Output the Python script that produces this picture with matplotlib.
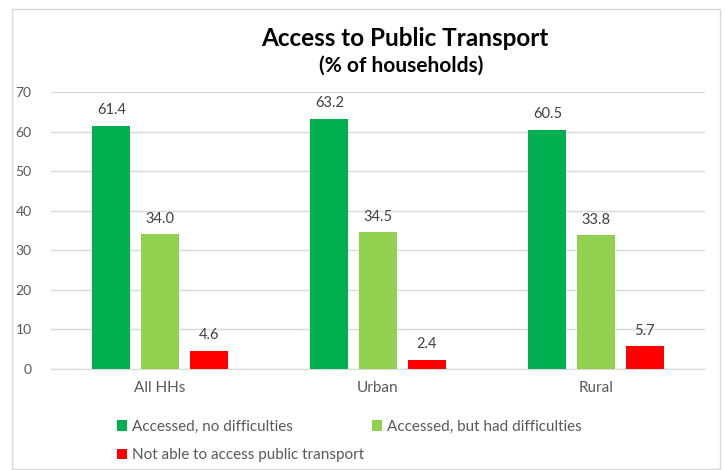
import matplotlib.pyplot as plt
import numpy as np
from matplotlib.patches import Rectangle

categories = ['All HHs', 'Urban', 'Rural']
series_names = ['Accessed, no difficulties', 'Accessed, but had difficulties',
                'Not able to access public transport']
no_difficulties = [61.4, 63.2, 60.5]
had_difficulties = [34.0, 34.5, 33.8]
no_access = [4.6, 2.4, 5.7]
colors = ['#00B050', '#92D050', '#FF0000']

plt.rcParams['font.family'] = ['Lato', 'DejaVu Sans']
text_grey = '#595959'

fig = plt.figure(figsize=(7.25, 4.7), dpi=100)
ax = fig.add_axes([51 / 725, 1 - 369 / 470, 654 / 725, 277 / 470])

x = np.arange(len(categories))
width = 0.175
step = 0.223
handles = []
for i, (vals, col) in enumerate(zip([no_difficulties, had_difficulties, no_access], colors)):
    bars = ax.bar(x + (i - 1) * step, vals, width, color=col, label=series_names[i], zorder=3)
    handles.append(bars)
    for b, v in zip(bars, vals):
        ax.text(b.get_x() + b.get_width() / 2, v + 2.2, f'{v:.1f}', ha='center', va='bottom',
                fontsize=10.5, color='#404040')

ax.set_xlim(-0.5, 2.5)
ax.set_ylim(0, 70)
ax.set_yticks(range(0, 71, 10))
ax.yaxis.grid(True, color='#d9d9d9', linewidth=1, zorder=0)
ax.set_xticks(x)
ax.set_xticklabels(categories)
ax.tick_params(axis='both', length=0, colors=text_grey, labelsize=10)
ax.tick_params(axis='x', pad=9, labelsize=11)
ax.tick_params(axis='y', pad=14)
for s in ['top', 'right', 'left']:
    ax.spines[s].set_visible(False)
ax.spines['bottom'].set_color('#d9d9d9')

fig.text(405 / 725, 1 - 38 / 470, 'Access to Public Transport', ha='center', va='center',
         fontsize=17.5, fontweight='bold', color='black')
fig.text(401 / 725, 1 - 66 / 470, '(% of households)', ha='center', va='center',
         fontsize=15, fontweight='bold', color='black')

# column-first fill: green & red in col 1, light green in col 2
order = [0, 2, 1]
fig.legend([handles[i] for i in order], [series_names[i] for i in order],
           loc='upper left', bbox_to_anchor=(103 / 725, 1 - 406 / 470), ncol=2,
           frameon=False, fontsize=11, handlelength=0.7, handleheight=0.7,
           handletextpad=0.3, columnspacing=0.5, labelspacing=0.95, labelcolor=text_grey)

fig.patches.append(Rectangle((12 / 725, 1 / 470), 708 / 725, 460 / 470, transform=fig.transFigure,
                             fill=False, edgecolor='#d9d9d9', linewidth=1))

fig.savefig('out.png', dpi=100)
